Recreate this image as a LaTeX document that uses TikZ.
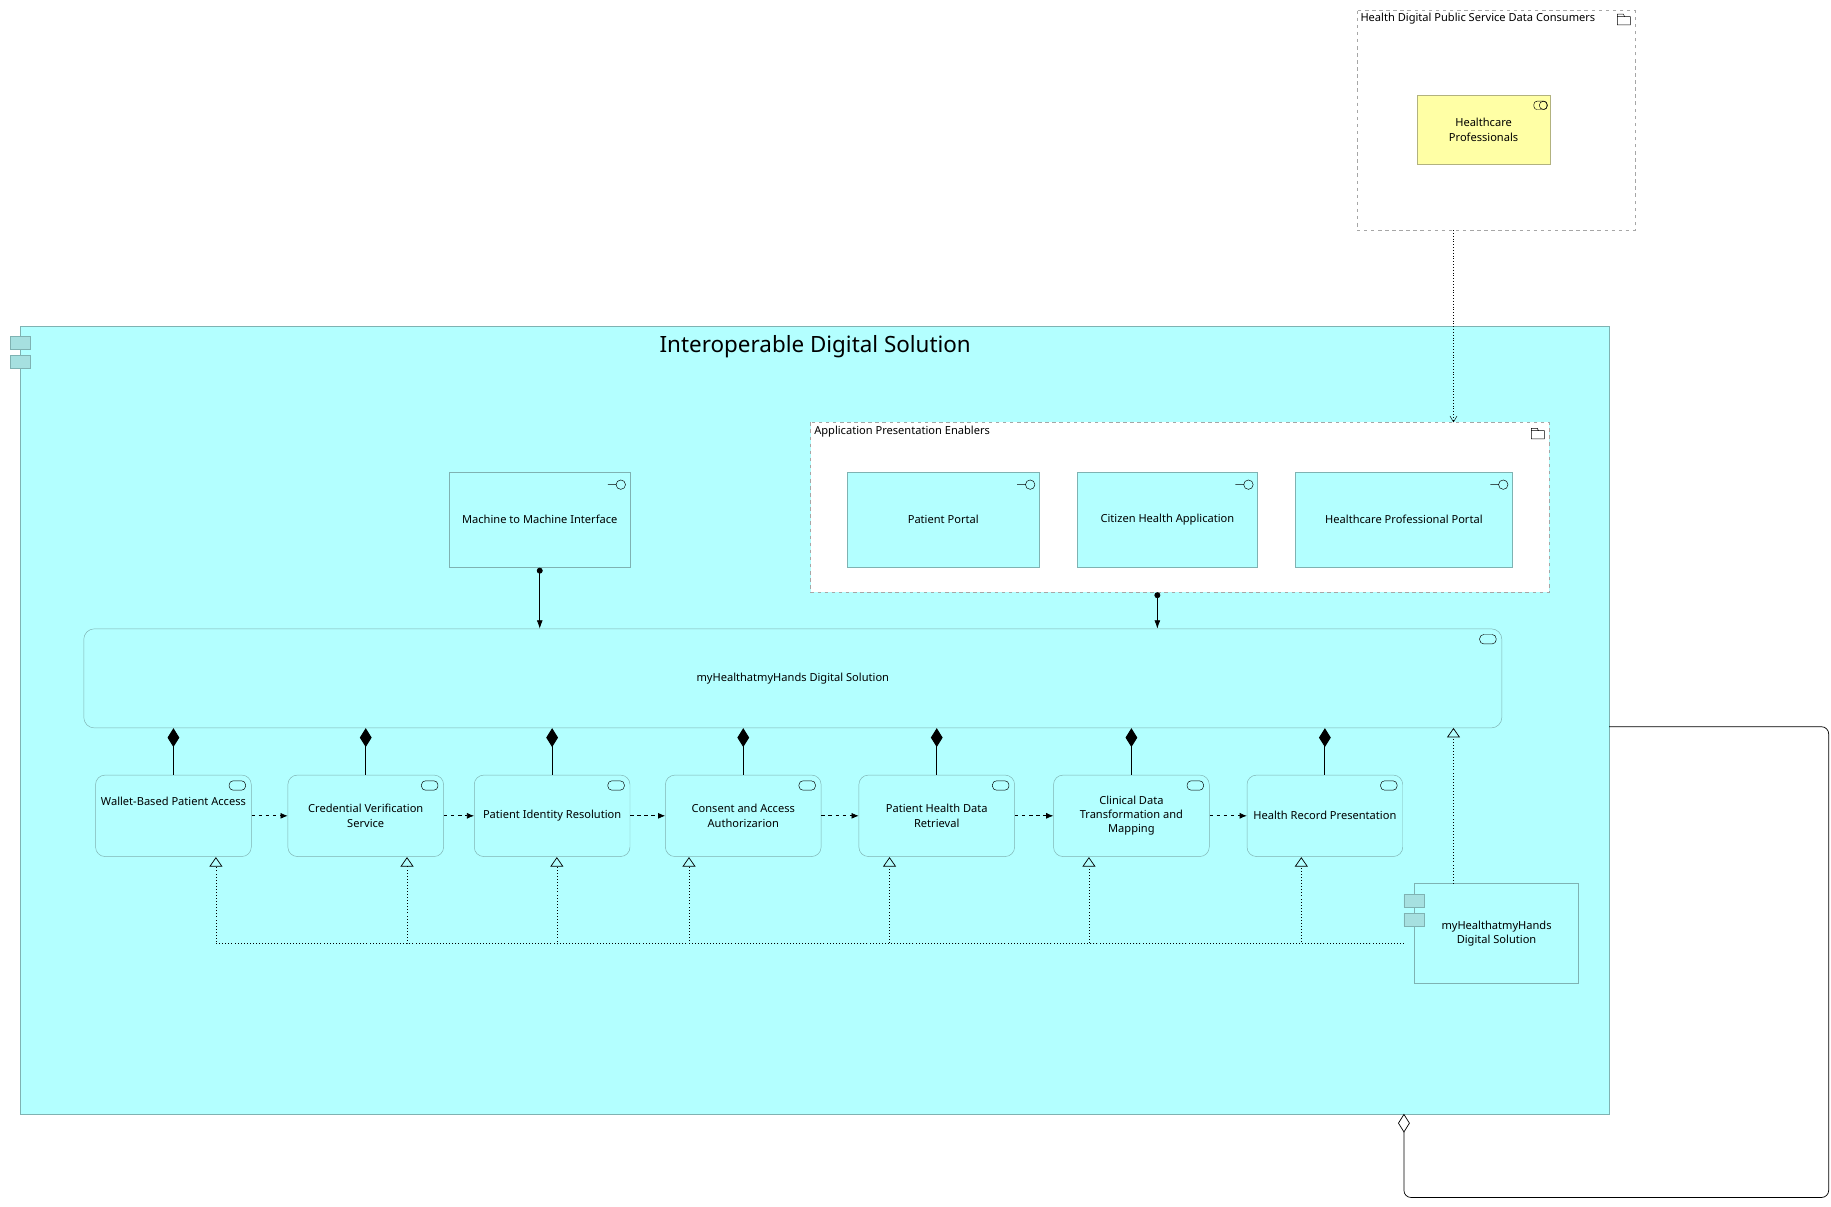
\documentclass[tikz,border=0pt]{standalone}
\usepackage{fontspec}
\setmainfont{Noto Sans}
\usetikzlibrary{arrows.meta,calc}
\definecolor{appc}{HTML}{B3FFFF}
\definecolor{bord}{HTML}{7FB2B2}
\definecolor{icf}{HTML}{A6E0E0}
\definecolor{yel}{HTML}{FFFFA5}
\definecolor{ybord}{HTML}{B2B27F}
\newcommand\fs{\fontsize{9.4}{12}\selectfont}
\tikzset{
 box/.style={draw=bord, fill=appc, align=center, font=\fs, inner sep=2pt},
 svc/.style={box, rounded corners=8pt, minimum width=132pt, minimum height=69pt},
 grp/.style={draw=black!35, dashed, fill=white},
 comp/.style={-{Diamond[length=16pt,width=10pt]}, thick},
 flow/.style={dashed, -{Latex[length=6pt,width=5pt]}, semithick},
 real/.style={dotted, semithick, -{Triangle[open,length=8pt,width=11pt]}},
 serv/.style={{Circle[length=5pt]}-{Latex[length=7pt,width=5pt]}, semithick},
 agg/.style={{Diamond[open,length=16pt,width=10pt]}-, semithick, rounded corners=6pt},
 acc/.style={dotted, -{Straight Barb[length=5pt,width=6pt]}},
}
\newcommand\svcic[1]{\draw[black, rounded corners=3.5pt] ($(#1.north east)+(-19,5)$) rectangle ++(14,8);}
\newcommand\itfic[1]{\draw[black] ($(#1.north east)+(-8,11)$) circle (4pt) ($(#1.north east)+(-12,11)$) -- ++(-7,0);}
\newcommand\fold[2]{\draw[black] ($(#1)+(0,3)$) rectangle ++(11,7) ($(#1)+(0,3)$) -- ++(0,-2) -- ++(5,0) -- ++(1,2);}
\newcommand\cmpic[2]{\draw[bord, fill=icf] (#1,#2) rectangle ++(17,11) (#1,#2+16) rectangle ++(17,11);}
\begin{document}
\begin{tikzpicture}[x=1pt,y=-1pt]
\useasboundingbox (0,0) rectangle (1552,1023);
% top group
\draw[grp] (1150,9) rectangle (1386,195);
\node[anchor=north west, font=\fs, inner sep=0pt] (hdt) at (1153,11) {Health Digital Public Service Data Consumers};
\fold{1371,11}{}
\coordinate (hdg) at (1232,195);
\node[draw=ybord, fill=yel, minimum width=113pt, minimum height=58pt, font=\fs, align=center] (hp) at (1257.5,110) {Healthcare\\Professionals};
\draw[black, rounded corners=2.5pt] ($(hp.north east)+(-14,5)$) rectangle ++(11,7);
\draw[black] ($(hp.north east)+(-6,8.5)$) circle (3.5pt);
% container
\node[draw=bord, fill=appc, minimum width=1347pt, minimum height=668pt, anchor=north west, inner sep=0pt] (ids) at (17,276) {};
\cmpic{9}{285}
\node[font=\fontsize{19}{22}\selectfont] (idt) at (691,294) {Interoperable Digital Solution};
% app group
\draw[grp] (687,358) rectangle (1313,502);
\node[anchor=north west, font=\fs, inner sep=0pt] (apt) at (690,361) {Application Presentation Enablers};
\fold{1298,362}{}
\coordinate (apg) at (1232,358);
\coordinate (apb) at (981,502);
\node[box, minimum width=163pt, minimum height=81pt] (pp) at (799.5,440.5) {Patient Portal};
\node[box, minimum width=153pt, minimum height=81pt] (cha) at (989.5,440.5) {Citizen Health Application};
\node[box, minimum width=184pt, minimum height=81pt] (hpp) at (1190,440.5) {Healthcare Professional Portal};
\node[box, minimum width=153pt, minimum height=81pt] (m2m) at (457.5,440.5) {Machine to Machine Interface};
\itfic{pp}\itfic{cha}\itfic{hpp}\itfic{m2m}
% big service
\node[box, rounded corners=9pt, minimum width=1202pt, minimum height=84pt] (big) at (672,575) {myHealthatmyHands Digital Solution};
\svcic{big}
% services
\node[svc] (s1) at (147,691.5) {Wallet-Based Patient Access\\[13pt]};
\node[svc] (s2) at (310,691.5) {Credential Verification\\Service};
\node[svc] (s3) at (468,691.5) {Patient Identity Resolution};
\node[svc] (s4) at (630,691.5) {Consent and Access\\Authorizarion};
\node[svc] (s5) at (794,691.5) {Patient Health Data\\Retrieval};
\node[svc] (s6) at (959,691.5) {Clinical Data\\Transformation and\\Mapping};
\node[svc] (s7) at (1123,691.5) {Health Record Presentation};
\foreach \s in {s1,s2,s3,s4,s5,s6,s7}{\svcic{\s}}
\foreach \s in {s1,s2,s3,s4,s5,s6,s7}{\draw[comp] (\s.north) -- (\s.north |- big.south);}
\foreach \a/\b in {s1/s2,s2/s3,s3/s4,s4/s5,s5/s6,s6/s7}{\draw[flow] (\a.east) -- (\b.west);}
% component
\node[box, minimum width=139pt, minimum height=84pt] (cmp) at (1268.5,791) {myHealthatmyHands\\Digital Solution};
\cmpic{1190}{758}
\coordinate (rs) at (1190,800);
\foreach \s/\x in {s1/183,s2/345,s3/472,s4/584,s5/754,s6/923,s7/1103}{\draw[real] (rs) -| (\x,726.5);}
\draw[real] (1232,749) -- (1232,617);
% serving
\draw[serv] (m2m.south) -- (m2m.south |- big.north);
\draw[serv] (apb) -- (apb |- big.north);
\draw[acc] (hdg) -- (apg);
% aggregation
\coordinate (a0) at (1190,944);
\coordinate (a1) at (1364,616);
\draw[agg] (a0) -- (1190,1015) -- (1550,1015) -- (1550,616) -- (a1);
\end{tikzpicture}
\end{document}
